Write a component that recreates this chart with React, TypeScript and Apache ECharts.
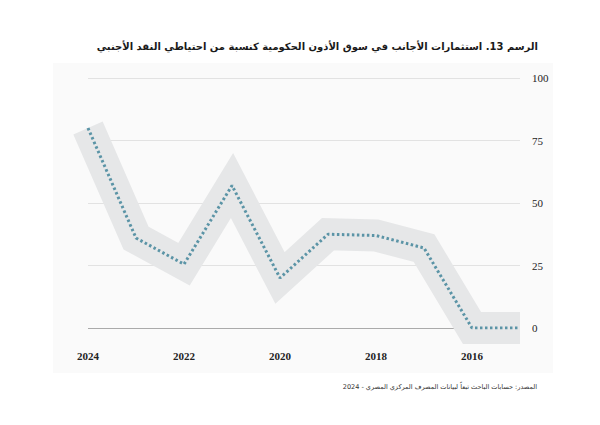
import React, { useEffect, useRef } from "react";
import * as echarts from "echarts";

const years = ["2024", "2023", "2022", "2021", "2020", "2019", "2018", "2017", "2016", "2015"];
const values = [80, 36, 25.5, 57, 20, 37.5, 37, 32, 0, 0];
const yTicks = [0, 25, 50, 75, 100];
const titleText = "الرسم 13. استثمارات الأجانب في سوق الأذون الحكومية كنسبة من احتياطي النقد الأجنبي";
const sourceText = "المصدر: حسابات الباحث تبعاً لبيانات المصرف المركزي المصري - 2024";

export default function App() {
  const ref = useRef<HTMLDivElement>(null);
  useEffect(() => {
    if (!ref.current) return;
    document.body.style.margin = "0";
    const chart = echarts.init(ref.current, null, { renderer: "svg" });
    chart.setOption({
      animation: false,
      backgroundColor: "#ffffff",
      graphic: [
        {
          type: "rect",
          z: -10,
          shape: { x: 53, y: 63, width: 500, height: 310 },
          style: { fill: "#fafafa" },
        },
        {
          type: "text",
          right: 62,
          top: 41,
          style: {
            text: titleText,
            font: "bold 10px 'DejaVu Sans', sans-serif",
            fill: "#1a1a1a",
            textAlign: "right",
          },
        },
        {
          type: "text",
          right: 63,
          top: 383,
          style: {
            text: sourceText,
            font: "6.5px 'DejaVu Sans', sans-serif",
            fill: "#333",
            textAlign: "right",
          },
        },
      ],
      grid: { left: 88, right: 80, top: 78, bottom: 97 },
      xAxis: {
        type: "category",
        data: years,
        boundaryGap: false,
        axisLine: { show: false },
        axisTick: { show: false },
        splitLine: { show: false },
        axisLabel: {
          interval: 1,
          margin: 22,
          color: "#222",
          fontFamily: "'Liberation Serif', serif",
          fontSize: 11,
          fontWeight: "bold",
        },
      },
      yAxis: {
        type: "value",
        position: "right",
        min: 0,
        max: 100,
        interval: 25,
        axisLine: { show: false },
        axisTick: { show: false },
        axisLabel: {
          margin: 12,
          color: "#222",
          fontFamily: "'Liberation Serif', serif",
          fontSize: 11,
          formatter: (v: number) => (yTicks.includes(v) ? String(v) : ""),
        },
        splitLine: {
          lineStyle: {
            color: ["#aaaaaa", "#e2e2e2", "#e2e2e2", "#e2e2e2", "#e2e2e2"],
            width: 1,
          },
        },
      },
      series: [
        {
          type: "line",
          data: values,
          symbol: "none",
          silent: true,
          z: 1,
          lineStyle: { color: "#e6e7e8", width: 32, join: "miter", miterLimit: 10, cap: "butt" },
        },
        {
          type: "line",
          data: values,
          symbol: "none",
          silent: true,
          z: 3,
          lineStyle: { color: "#5b94a6", width: 3, type: [2.5, 2.5] },
        },
      ],
    });
    return () => chart.dispose();
  }, []);
  return <div ref={ref} style={{ width: 600, height: 425 }} />;
}
